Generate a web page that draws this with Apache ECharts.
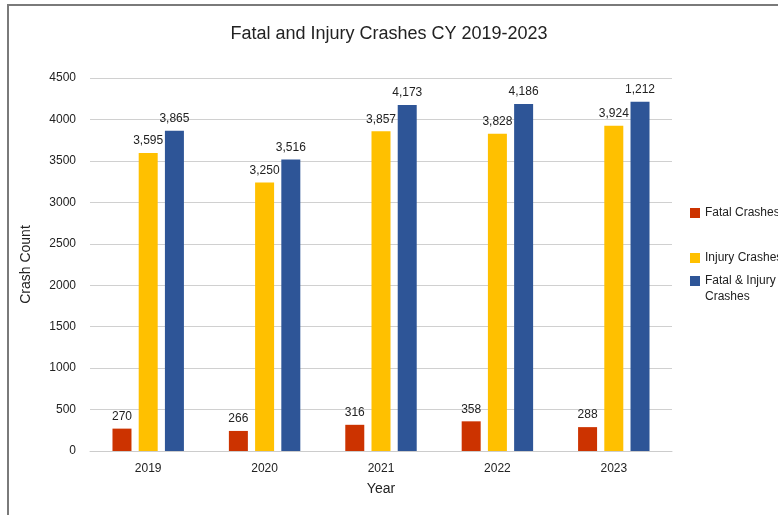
<!DOCTYPE html>
<html>
<head>
<meta charset="utf-8">
<script src="https://cdn.jsdelivr.net/npm/echarts@6/dist/echarts.min.js"></script>
<style>
html,body{margin:0;padding:0;background:#fff;}
#chart{width:778px;height:515px;}
</style>
</head>
<body>
<div id="chart"></div>
<script>
const categories = ['2019', '2020', '2021', '2022', '2023'];
const fatalValues = [270, 242, 316, 358, 288];
const injuryValues = [3595, 3240, 3857, 3828, 3924];
const totalValues = [3865, 3516, 4173, 4186, 4212];
const fatalLabels = ['270', '266', '316', '358', '288'];
const injuryLabels = ['3,595', '3,250', '3,857', '3,828', '3,924'];
const totalLabels = ['3,865', '3,516', '4,173', '4,186', '1,212'];
const yTicks = { min: 0, max: 4500, interval: 500 };

const FONT = '"Liberation Sans", Arial, sans-serif';
const TXT = '#222';

function labelCfg(arr) {
  return {
    show: true, position: 'top', distance: 6,
    fontFamily: FONT, fontSize: 12, color: TXT,
    formatter: p => arr[p.dataIndex]
  };
}

const chart = echarts.init(document.getElementById('chart'));
chart.setOption({
  animation: false,
  backgroundColor: '#fff',
  title: {
    text: 'Fatal and Injury Crashes CY 2019-2023',
    left: 'center', top: 20,
    textStyle: { fontFamily: FONT, fontSize: 18, fontWeight: 'normal', color: TXT }
  },
  graphic: [
    { type: 'line', shape: { x1: 7, y1: 5, x2: 778, y2: 5 }, style: { stroke: '#7a7a7a', lineWidth: 2 } },
    { type: 'line', shape: { x1: 8, y1: 4, x2: 8, y2: 515 }, style: { stroke: '#7a7a7a', lineWidth: 2 } }
  ],
  legend: [
    {
      orient: 'vertical', left: 690, top: 207, padding: 0, itemWidth: 10, itemHeight: 10,
      icon: 'rect', data: ['Fatal Crashes'],
      textStyle: { fontFamily: FONT, fontSize: 12, color: TXT }
    },
    {
      orient: 'vertical', left: 690, top: 252, padding: 0, itemWidth: 10, itemHeight: 10,
      icon: 'rect', data: ['Injury Crashes'],
      textStyle: { fontFamily: FONT, fontSize: 12, color: TXT }
    },
    {
      orient: 'vertical', left: 690, top: 273, padding: 0, itemWidth: 10, itemHeight: 26,
      data: [{ name: 'Fatal & Injury Crashes', icon: 'path://M0,0h10v10h-10z M0,26L0,26' }],
      formatter: () => 'Fatal & Injury\nCrashes',
      textStyle: { fontFamily: FONT, fontSize: 12, color: TXT, lineHeight: 16 }
    }
  ],
  grid: { left: 90, right: 106, top: 78, bottom: 64 },
  xAxis: {
    type: 'category', data: categories,
    name: 'Year', nameLocation: 'middle', nameGap: 31,
    nameTextStyle: { fontFamily: FONT, fontSize: 14, color: TXT },
    axisLine: { show: true, lineStyle: { color: '#cccccc' } },
    axisTick: { show: false },
    axisLabel: { fontFamily: FONT, fontSize: 12, color: TXT, margin: 12 }
  },
  yAxis: {
    type: 'value', min: yTicks.min, max: yTicks.max, interval: yTicks.interval,
    name: 'Crash Count', nameLocation: 'middle', nameGap: 57,
    nameTextStyle: { fontFamily: FONT, fontSize: 14, color: TXT },
    axisLine: { show: false }, axisTick: { show: false },
    axisLabel: { fontFamily: FONT, fontSize: 12, color: TXT, margin: 14, formatter: v => String(v) },
    splitLine: { lineStyle: { color: '#d0d0d0' } }
  },
  series: [
    { name: 'Fatal Crashes', type: 'bar', data: fatalValues, barWidth: 19, barGap: '38%',
      itemStyle: { color: '#cc3300' }, label: labelCfg(fatalLabels) },
    { name: 'Injury Crashes', type: 'bar', data: injuryValues, barWidth: 19, barGap: '38%',
      itemStyle: { color: '#ffc000' }, label: labelCfg(injuryLabels) },
    { name: 'Fatal & Injury Crashes', type: 'bar', data: totalValues, barWidth: 19, barGap: '38%',
      itemStyle: { color: '#2e5597' }, label: labelCfg(totalLabels) }
  ]
});
</script>
</body>
</html>
